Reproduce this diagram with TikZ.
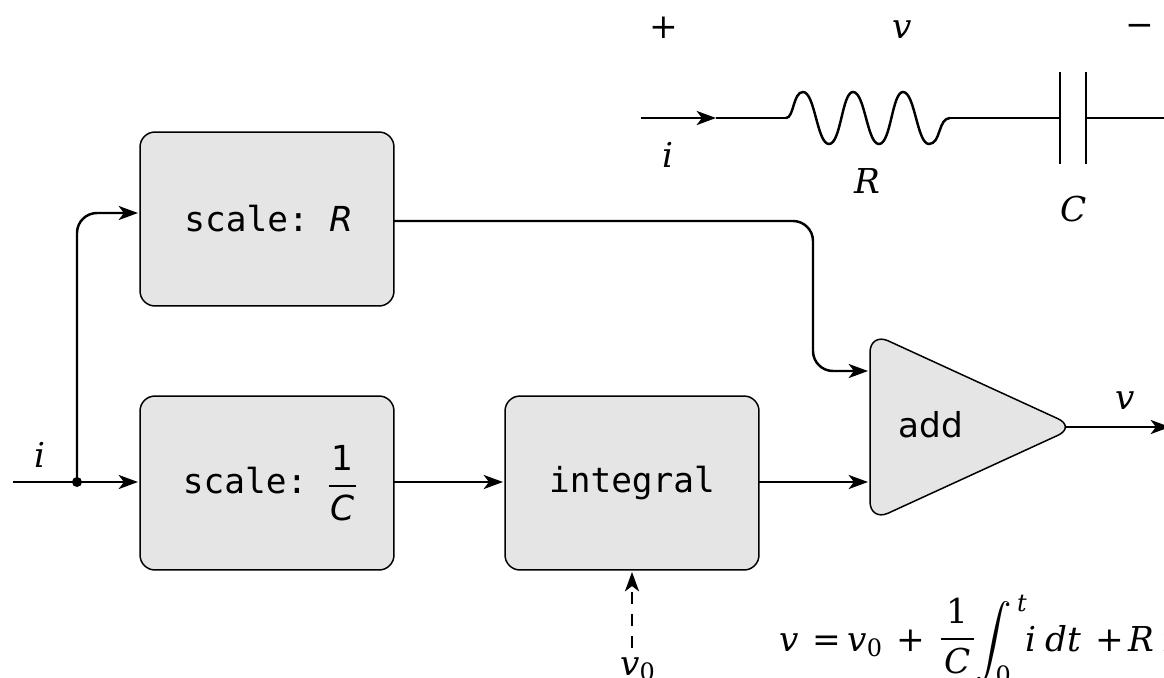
\documentclass[tikz,border=0pt]{standalone}
\usepackage{amsmath}
\usepackage{fontspec}
\setmainfont{DejaVu Sans}
\newfontfamily\serifit{DejaVu Serif}
\setmonofont{DejaVu Sans Mono}
\usetikzlibrary{arrows.meta}
\newcommand{\sv}[1]{\text{\serifit\itshape #1}}
\newcommand{\su}[1]{\text{\serifit #1}}
\newcommand{\so}[1]{\text{\normalfont\itshape #1}}
\newcommand{\sn}[1]{\text{\normalfont #1}}
\tikzset{
  block/.style={draw,line width=0.85pt,fill=black!10,rounded corners=0.3cm,
    minimum width=5.08cm,minimum height=3.48cm,font=\fontsize{19.6}{22}\selectfont\ttfamily},
  wire/.style={line width=1.4pt},
  lbl/.style={font=\fontsize{19.5}{22}\selectfont,inner sep=0pt}
}
\begin{document}
\begin{tikzpicture}[x=0.02cm,y=-0.02cm,>={Stealth[inset=3pt,length=11pt,width=8pt]}]
\useasboundingbox (0,0) rectangle (1164,677);
\clip (0,0) rectangle (1164,677);
\node[block] (scaleR) at (267,219) {\raisebox{1.1pt}{\hspace{2.3pt}scale: $\so{R}$}};
\node[block] (scaleC) at (267,483) {\raisebox{1.1pt}{\hspace{4.2pt}scale:\hspace{-0.9pt} $\raisebox{-1pt}{$\dfrac{\sn{1}}{\kern1.1pt\so{C}\kern1.1pt}$}$}};
\node[block] (integ) at (632,483) {\raisebox{1.1pt}{integral}};
\draw[line width=0.85pt,fill=black!10,rounded corners=0.4cm] (870,332.5)--(1076,427)--(870,521.5)--cycle;
\node[lbl] (add) at (931,425) {add};
\coordinate (iin) at (13,482);
\coordinate (jn) at (77,482);
\coordinate (cin) at (138,482);
\coordinate (rin) at (138,213);
\coordinate (rout) at (394,221);
\coordinate (addup) at (868,371);
\coordinate (addlow) at (868,482);
\coordinate (cout) at (394,482);
\coordinate (iin2) at (503,482);
\coordinate (iout) at (759,482);
\coordinate (addout) at (1066,427);
\coordinate (vout) at (1170,427);
\draw[wire,->] (iin)--(cin);
\draw[wire,->,rounded corners=0.4cm] (jn)--(77,213)--(rin);
\fill (jn) circle (0.1cm);
\draw[wire,->,rounded corners=0.4cm] (rout)--(813,221)--(813,371)--(addup);
\draw[wire,->] (cout)--(iin2);
\draw[wire,->] (iout)--(addlow);
\draw[wire,->] (addout)--(vout);
\node[lbl] (ilbl) at (40,455) {$\sv{i}$};
\node[lbl] (vlbl) at (1125,401) {$\sv{v}$};
\node[lbl,anchor=base] (vzero) at (638,675) {$\sv{v}_{\su{0}}$};
\coordinate (vup) at (632,572);
\coordinate (vdown) at (632,648);
\draw[wire,->,dash pattern=on 6.8pt off 5.8pt] (vdown)--(vup);
% circuit
\coordinate (cirin) at (641,118);
\coordinate (cirmid) at (716,118);
\coordinate (resin) at (786,118);
\coordinate (resout) at (950,118);
\coordinate (plateA) at (1060,118);
\coordinate (plateB) at (1086,118);
\coordinate (cirout) at (1164,118);
\draw[wire,->] (cirin)--(cirmid);
\draw[wire] (cirmid)--(resin);
\draw[wire] (resin) .. controls (794,118) and (793,92) .. (803,92)
  .. controls (815,92) and (817,144) .. (829,144)
  .. controls (841,144) and (842,92) .. (853,92)
  .. controls (865,92) and (867,144) .. (879,144)
  .. controls (891,144) and (892,92) .. (903,92)
  .. controls (915,92) and (917,144) .. (929,144)
  .. controls (941,144) and (938,118) .. (resout);
\draw[wire] (resout)--(plateA);
\draw[wire] (plateB)--(cirout);
\draw[wire] (1060,72)--(1060,164);
\draw[wire] (1086,72)--(1086,164);
\node[lbl] (plus) at (664,28) {$\su{+}$};
\node[lbl] (vtop) at (902,30) {$\sv{v}$};
\node[lbl] (minus) at (1140,30) {$\su{−}$};
\node[lbl] (icir) at (668,155) {$\sv{i}$};
\node[lbl] (Rlbl) at (867,181) {$\sv{R}$};
\node[lbl] (Clbl) at (1074,209) {$\sv{C}$};
\node[lbl,anchor=base west] (eq) at (779,651) {$\sv{v}\kern8pt\su{=}\kern3.5pt\sv{v}_{\su{0}}\kern7.4pt\su{+}\;\kern2.3pt\raisebox{1.7pt}{$\dfrac{\su{1}}{\kern2pt\sv{C}\kern2pt}$}\kern-4pt\displaystyle\int_{\su{0}}^{\kern3pt\sv{t}}\kern-5pt\sv{i}\kern5.7pt\sv{dt}\kern7.9pt\su{+}\kern2.5pt\sv{R}\kern4.5pt\sv{i}$};
\end{tikzpicture}
\end{document}
